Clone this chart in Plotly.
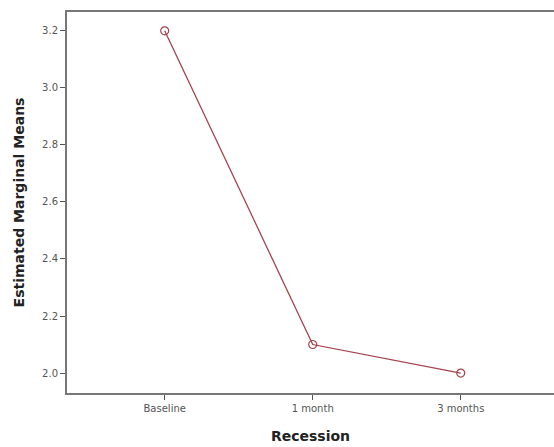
import plotly.graph_objects as go

categories = ["Baseline", "1 month", "3 months"]
means = [3.2, 2.1, 2.0]
y_ticks = [2.0, 2.2, 2.4, 2.6, 2.8, 3.0, 3.2]
y_tick_labels = ["2.0", "2.2", "2.4", "2.6", "2.8", "3.0", "3.2"]

fig = go.Figure()
fig.add_trace(go.Scatter(
    x=list(range(len(categories))), y=means, mode="lines+markers",
    line=dict(color="#a3434d", width=1.3),
    marker=dict(symbol="circle-open", size=8, color="#a3434d", line=dict(width=1.2)),
    showlegend=False,
))

fig.update_layout(
    width=554, height=447, autosize=False,
    margin=dict(l=67, r=0, t=12, b=54),
    paper_bgcolor="white", plot_bgcolor="white",
    font=dict(family="DejaVu Sans, sans-serif", color="#333"),
    xaxis=dict(
        range=[-0.66, 2.63],
        tickmode="array", tickvals=list(range(len(categories))), ticktext=categories,
        showgrid=False, zeroline=False,
        showline=True, linecolor="#777", linewidth=2, mirror=True,
        ticks="outside", ticklen=5, tickcolor="#555",
        tickfont=dict(size=10, color="#555"),
        title=dict(text="<b>Recession</b>", font=dict(size=14, color="#222"), standoff=18),
    ),
    yaxis=dict(
        range=[1.93, 3.266],
        tickmode="array", tickvals=y_ticks, ticktext=y_tick_labels,
        showgrid=False, zeroline=False,
        showline=True, linecolor="#777", linewidth=2,
        ticks="outside", ticklen=5, tickcolor="#555",
        tickfont=dict(size=10, color="#555"),
        title=dict(text="<b>Estimated Marginal Means</b>", font=dict(size=14, color="#222"), standoff=14),
    ),
)

fig.write_html(
    "out.html",
    config={"responsive": False, "displayModeBar": False},
    post_script="document.body.style.margin='0';document.body.style.overflow='hidden';",
)
